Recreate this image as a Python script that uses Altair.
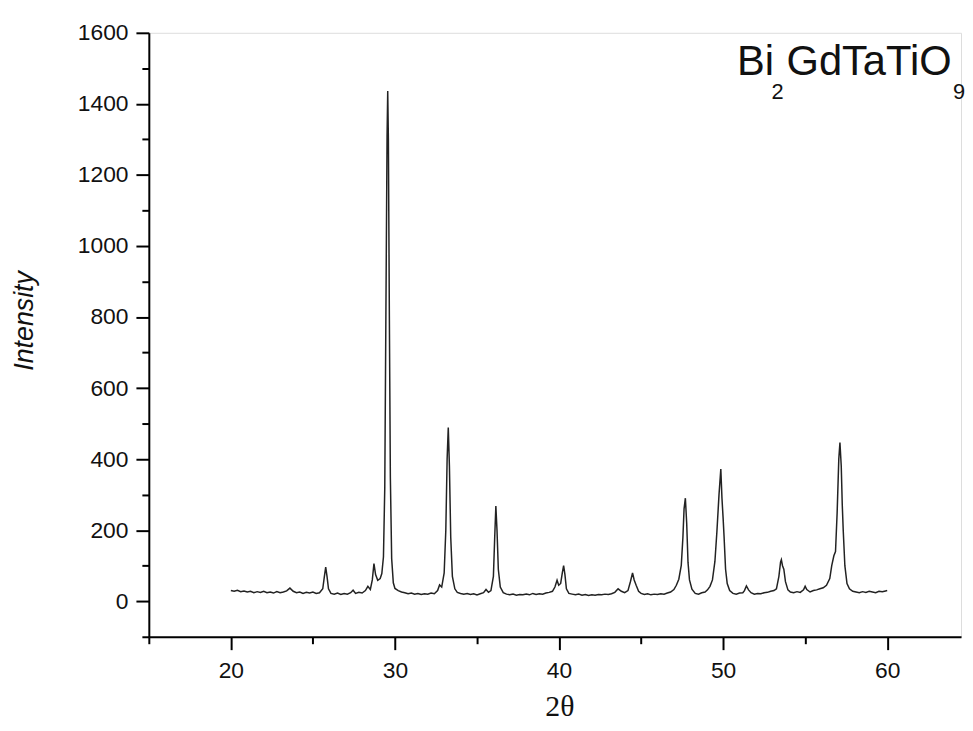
import altair as alt
import pandas as pd

two_theta = [
    20.0, 20.2, 20.4, 20.6, 20.8, 21.0, 21.2, 21.4, 21.6, 21.8,
    22.0, 22.2, 22.4, 22.6, 22.8, 23.0, 23.2, 23.4, 23.6, 23.8,
    24.0, 24.2, 24.4, 24.6, 24.8, 25.0, 25.2, 25.4, 25.6, 25.7,
    25.78, 25.86, 25.95, 26.1, 26.3, 26.5, 26.7, 26.9, 27.1, 27.3,
    27.45, 27.6, 27.8, 28.0, 28.2, 28.35, 28.5, 28.62, 28.72, 28.82,
    28.95, 29.1, 29.2, 29.3, 29.38, 29.45, 29.52, 29.56, 29.6, 29.66,
    29.72, 29.8, 29.9, 30.0, 30.2, 30.4, 30.6, 30.8, 31.0, 31.2,
    31.4, 31.6, 31.8, 32.0, 32.2, 32.4, 32.6, 32.72, 32.85, 33.0,
    33.1, 33.18, 33.25, 33.32, 33.4, 33.5, 33.65, 33.8, 34.0, 34.2,
    34.4, 34.6, 34.8, 35.0, 35.2, 35.4, 35.55, 35.7, 35.85, 36.0,
    36.08, 36.15, 36.22, 36.3, 36.42, 36.6, 36.8, 37.0, 37.2, 37.4,
    37.6, 37.8, 38.0, 38.2, 38.4, 38.6, 38.8, 39.0, 39.2, 39.4,
    39.6, 39.75, 39.88, 39.98, 40.1, 40.2, 40.28, 40.36, 40.45, 40.6,
    40.8, 41.0, 41.2, 41.4, 41.6, 41.8, 42.0, 42.2, 42.4, 42.6,
    42.8, 43.0, 43.2, 43.4, 43.6, 43.8, 44.0, 44.2, 44.35, 44.48,
    44.58, 44.7, 44.85, 45.0, 45.2, 45.4, 45.6, 45.8, 46.0, 46.2,
    46.4, 46.6, 46.8, 47.0, 47.15, 47.3, 47.45, 47.55, 47.62, 47.7,
    47.78, 47.86, 47.95, 48.1, 48.3, 48.5, 48.7, 48.9, 49.05, 49.2,
    49.35, 49.5, 49.62, 49.75, 49.86, 49.93, 50.0, 50.06, 50.15, 50.25,
    50.4, 50.6, 50.8, 51.0, 51.2, 51.3, 51.42, 51.55, 51.7, 51.9,
    52.1, 52.3, 52.5, 52.7, 52.9, 53.1, 53.25, 53.4, 53.5, 53.55,
    53.62, 53.7, 53.8, 53.95, 54.1, 54.3, 54.5, 54.7, 54.9, 55.0,
    55.1, 55.3, 55.5, 55.7, 55.9, 56.1, 56.3, 56.5, 56.62, 56.75,
    56.85, 56.95, 57.05, 57.12, 57.2, 57.26, 57.32, 57.42, 57.55, 57.7,
    57.9, 58.1, 58.3, 58.5, 58.7, 58.9, 59.1, 59.3, 59.5, 59.7,
    59.9, 60.0,
]
intensity = [
    30, 28, 31, 27, 29, 26, 28, 24, 27, 25,
    28, 24, 26, 23, 27, 24, 26, 29, 37, 28,
    24, 26, 22, 25, 23, 26, 22, 24, 35, 70,
    96, 70, 35, 22, 20, 23, 19, 22, 20, 24,
    31, 22, 25, 23, 30, 42, 33, 60, 106, 75,
    59, 64, 78, 125, 320, 820, 1310, 1436, 1300, 800,
    350, 120, 52, 36, 30, 26, 24, 21, 23, 20,
    22, 19, 21, 20, 23, 21, 30, 46, 40, 80,
    200, 400, 489, 380, 180, 70, 35, 25, 22, 20,
    22, 19, 21, 18, 21, 24, 33, 25, 30, 70,
    180, 268, 200, 90, 40, 24, 20, 18, 20, 17,
    19, 18, 20, 18, 22, 19, 21, 20, 23, 25,
    28, 40, 59, 45, 50, 80, 100, 75, 35, 22,
    20, 18, 20, 17, 19, 16, 18, 17, 19, 18,
    20, 19, 21, 25, 35, 28, 24, 30, 55, 80,
    60, 45, 28, 22, 19, 21, 18, 20, 19, 21,
    20, 23, 26, 33, 45, 62, 101, 180, 260, 290,
    220, 110, 60, 34, 22, 20, 24, 26, 32, 42,
    60, 112, 195, 300, 372, 290, 234, 180, 90, 50,
    30, 22, 20, 23, 24, 30, 43, 32, 24, 20,
    22, 21, 24, 25, 28, 30, 35, 70, 110, 117,
    100, 90, 55, 32, 26, 24, 27, 25, 32, 42,
    33, 26, 30, 32, 35, 38, 45, 64, 100, 128,
    140, 250, 400, 447, 380, 274, 200, 100, 50, 35,
    28, 26, 24, 27, 25, 28, 26, 24, 28, 27,
    29, 30,
]

x_major = [20, 30, 40, 50, 60]
x_minor = [15, 25, 35, 45, 55]
y_major = [0, 200, 400, 600, 800, 1000, 1200, 1400, 1600]
y_minor = [-100, 100, 300, 500, 700, 900, 1100, 1300, 1500]

x_domain = [15, 64.5]
y_domain = [-100, 1600]

df = pd.DataFrame({"two_theta": two_theta, "intensity": intensity})
minor_x_df = pd.DataFrame({"xm": x_minor})
minor_y_df = pd.DataFrame({"ym": y_minor})

W, H = 819, 609
FONT = "Liberation Sans"

xscale = alt.Scale(domain=x_domain, nice=False, zero=False)
yscale = alt.Scale(domain=y_domain, nice=False, zero=False)

common_axis = dict(
    domainColor="#000000", domainWidth=2,
    tickColor="#000000", tickWidth=2,
    labelFont=FONT, labelFontSize=23, labelColor="#111111",
    grid=False,
)

line = alt.Chart(df).mark_line(color="#222222", strokeWidth=1.5, clip=True).encode(
    x=alt.X("two_theta:Q", scale=xscale,
            axis=alt.Axis(orient="bottom", values=x_major, tickSize=13, labelPadding=10,
                          format="d", title="2θ", titleFont="Liberation Serif",
                          titleFontSize=30, titleFontWeight="normal", titleColor="#111111",
                          titleX=414, titleY=70, titleAlign="center", titleBaseline="middle",
                          **common_axis)),
    y=alt.Y("intensity:Q", scale=yscale,
            axis=alt.Axis(orient="left", values=y_major, tickSize=13, labelPadding=8,
                          format="d", title="Intensity", titleFont=FONT,
                          titleFontSize=27, titleFontStyle="italic", titleFontWeight="normal",
                          titleColor="#111111", titleAngle=270,
                          titleX=-125, titleY=290, titleAlign="center", titleBaseline="middle",
                          **common_axis)),
)

minor_x = alt.Chart(minor_x_df).mark_point(opacity=0).encode(
    x=alt.X("xm:Q", scale=xscale,
            axis=alt.Axis(orient="bottom", values=x_minor, tickSize=7, labels=False,
                          domain=False, title=None, tickColor="#000000", tickWidth=2, grid=False)),
)

minor_y = alt.Chart(minor_y_df).mark_point(opacity=0).encode(
    y=alt.Y("ym:Q", scale=yscale,
            axis=alt.Axis(orient="left", values=y_minor, tickSize=7, labels=False,
                          domain=False, title=None, tickColor="#000000", tickWidth=2, grid=False)),
)

label_df = pd.DataFrame({"t": [0]})
def txt(s, xpx, ypx, size):
    return alt.Chart(label_df).mark_text(
        text=s, font=FONT, fontSize=size, color="#111111", align="left", baseline="alphabetic"
    ).encode(x=alt.value(xpx), y=alt.value(ypx))

formula = (txt("Bi", 593, 43, 42) + txt("2", 628, 67, 22)
           + txt("GdTaTiO", 643, 43, 42) + txt("9", 811, 67, 22))

chart = alt.layer(line, minor_x, minor_y, formula).resolve_axis(
    x="independent", y="independent"
).properties(
    width=W, height=H,
    autosize=alt.AutoSizeParams(type="none"),
    padding={"left": 142, "top": 22, "right": 4, "bottom": 92},
).configure_view(stroke=None).configure(background="white")

chart.save("out.html", embed_options={"renderer": "svg", "actions": False})
